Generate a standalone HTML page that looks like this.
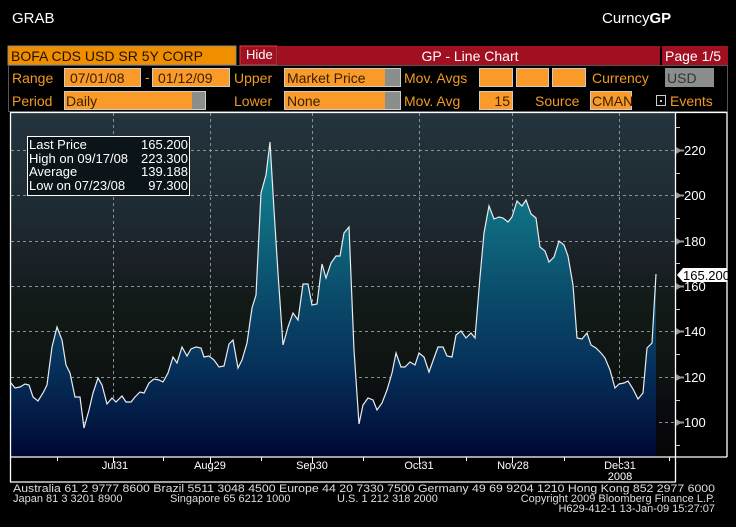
<!DOCTYPE html>
<html><head><meta charset="utf-8"><style>
body{margin:0;background:#000;width:736px;height:527px;overflow:hidden}
svg{display:block}
text{font-family:"Liberation Sans Narrow","Liberation Sans",sans-serif}
</style></head><body>
<svg width="736" height="527" viewBox="0 0 736 527" xmlns="http://www.w3.org/2000/svg">
<defs>
<linearGradient id="bg" gradientUnits="userSpaceOnUse" x1="0" y1="113" x2="0" y2="457">
<stop offset="0" stop-color="#24343c"/>
<stop offset="0.3" stop-color="#1e2a31"/>
<stop offset="0.45" stop-color="#191f24"/>
<stop offset="0.55" stop-color="#121a18"/>
<stop offset="0.75" stop-color="#0e1412"/>
<stop offset="0.85" stop-color="#0a0b12"/>
<stop offset="1" stop-color="#050508"/>
</linearGradient>
<linearGradient id="fill" gradientUnits="userSpaceOnUse" x1="0" y1="140" x2="0" y2="457">
<stop offset="0" stop-color="#12899a"/>
<stop offset="0.25" stop-color="#0f6c80"/>
<stop offset="0.5" stop-color="#0a4a6a"/>
<stop offset="0.72" stop-color="#06305a"/>
<stop offset="0.88" stop-color="#021a44"/>
<stop offset="1" stop-color="#000733"/>
</linearGradient>
</defs>

<text x="12" y="23" fill="#fff" font-size="15">GRAB</text>
<text x="602" y="23" fill="#fff" font-size="15">Curncy<tspan font-weight="bold" font-family="Liberation Sans" font-size="15">GP</tspan></text>

<!-- header row -->
<rect x="8" y="46" width="228" height="19" fill="#ef8f00" stroke="#888" stroke-width="1"/>
<text x="11" y="61" fill="#221100" font-size="14">BOFA CDS USD SR 5Y CORP</text>
<rect x="240" y="46" width="37" height="19" fill="#a01020" stroke="#e04040" stroke-width="1"/>
<text x="246" y="59" fill="#fff" font-size="13">Hide</text>
<rect x="278" y="46" width="382" height="19" fill="#a01020"/>
<text x="470" y="61" fill="#fff" font-size="14" text-anchor="middle">GP - Line Chart</text>
<rect x="662" y="46" width="66" height="19" fill="#a01020"/>
<text x="665" y="61" fill="#fff" font-size="14">Page 1/5</text>

<rect x="8.5" y="65.5" width="719" height="46" fill="none" stroke="#555" stroke-width="1"/>
<g font-size="14" fill="#f09a20">
<text x="12" y="83">Range</text>
<text x="145" y="82">-</text>
<text x="234" y="83">Upper</text>
<text x="404" y="83">Mov. Avgs</text>
<text x="592" y="83">Currency</text>
<text x="12" y="106">Period</text>
<text x="234" y="106">Lower</text>
<text x="404" y="106">Mov. Avg</text>
<text x="535" y="106">Source</text>
<text x="670" y="106">Events</text>
</g>
<g fill="#fa9a28" stroke="#ccc" stroke-width="1">
<rect x="64.5" y="68.5" width="76" height="18"/>
<rect x="152.5" y="68.5" width="77" height="18"/>
<rect x="284.5" y="68.5" width="116" height="18"/>
<rect x="479.5" y="68.5" width="33" height="18"/>
<rect x="516.5" y="68.5" width="32" height="18"/>
<rect x="552.5" y="68.5" width="33" height="18"/>
<rect x="64.5" y="91.5" width="141" height="18"/>
<rect x="284.5" y="91.5" width="116" height="18"/>
<rect x="479.5" y="91.5" width="33" height="18"/>
<rect x="590.5" y="91.5" width="41" height="18"/>
</g>
<rect x="385" y="69" width="15" height="17" fill="#8a8f8c"/>
<rect x="385" y="92" width="15" height="17" fill="#8a8f8c"/>
<rect x="192" y="92" width="13" height="17" fill="#8a8f8c"/>
<rect x="665" y="68" width="49" height="19" fill="#8a8f8c"/>
<rect x="656.5" y="95.5" width="9" height="10" fill="none" stroke="#ccc"/>
<rect x="660" y="100" width="2" height="2" fill="#ccc"/>
<g font-size="14" fill="#3a2000">
<text x="70" y="83">07/01/08</text>
<text x="158" y="83">01/12/09</text>
<text x="287" y="83">Market Price</text>
<text x="66" y="106">Daily</text>
<text x="287" y="106">None</text>
<text x="510" y="106" text-anchor="end">15</text>
<text x="592" y="106">CMAN</text>
<text x="667" y="83" fill="#333">USD</text>
</g>

<!-- chart -->
<rect x="11" y="113" width="664" height="344" fill="url(#bg)"/>
<g stroke="#8a9096" stroke-dasharray="3,3" stroke-width="1">
<line x1="11" x2="675" y1="150.5" y2="150.5"/>
<line x1="11" x2="675" y1="195.5" y2="195.5"/>
<line x1="11" x2="675" y1="241.5" y2="241.5"/>
<line x1="11" x2="675" y1="286.5" y2="286.5"/>
<line x1="11" x2="675" y1="331.5" y2="331.5"/>
<line x1="11" x2="675" y1="377.5" y2="377.5"/>
<line x1="11" x2="675" y1="422.5" y2="422.5"/>
<line x1="113.5" x2="113.5" y1="113" y2="457"/>
<line x1="210.5" x2="210.5" y1="113" y2="457"/>
<line x1="312.5" x2="312.5" y1="113" y2="457"/>
<line x1="419.5" x2="419.5" y1="113" y2="457"/>
<line x1="512.5" x2="512.5" y1="113" y2="457"/>
<line x1="619.5" x2="619.5" y1="113" y2="457"/>
</g>
<polygon fill="url(#fill)" points="11,457 11,383 15,388 20,387 25,384 29,385 33,397 38,401 43,393 47,385 52,347 57,327 62,340 66,365 70,373 75,397 80,397 84,428 89,410 93,393 98,378 102,385 107,404 112,398 116,402 122,396 126,402 131,402 135,397 140,392 144,393 149,383 154,379 159,380 163,382 168,373 173,357 177,363 182,347 187,356 191,349 196,347 201,348 204,357 209,356 214,360 219,367 224,366 229,344 233,340 238,368 242,360 247,343 252,308 256,295 261,193 266,175 270,142 274,210 278,273 283,345 288,327 293,313 298,320 303,284 308,284 312,305 317,304 322,264 326,278 331,263 336,256 340,256 344,233 349,227 354,350 359,424 363,405 368,398 373,400 377,410 382,403 387,390 392,373 396,353 401,367 405,367 410,362 415,365 419,353 424,357 429,372 434,358 438,347 443,347 447,356 452,357 456,335 461,331 466,338 471,333 475,338 480,277 484,233 489,206 494,219 499,217 503,218 508,222 512,217 517,201 522,206 526,200 531,214 536,218 540,247 545,251 549,262 554,257 559,241 564,245 568,256 573,285 577,338 582,339 587,333 591,345 596,348 601,353 605,358 610,370 615,388 619,384 624,383 628,381 633,389 638,399 643,393 647,348 652,343 656,274 656,457"/>
<polyline fill="none" stroke="#e8ecef" stroke-width="1.2" points="11,383 15,388 20,387 25,384 29,385 33,397 38,401 43,393 47,385 52,347 57,327 62,340 66,365 70,373 75,397 80,397 84,428 89,410 93,393 98,378 102,385 107,404 112,398 116,402 122,396 126,402 131,402 135,397 140,392 144,393 149,383 154,379 159,380 163,382 168,373 173,357 177,363 182,347 187,356 191,349 196,347 201,348 204,357 209,356 214,360 219,367 224,366 229,344 233,340 238,368 242,360 247,343 252,308 256,295 261,193 266,175 270,142 274,210 278,273 283,345 288,327 293,313 298,320 303,284 308,284 312,305 317,304 322,264 326,278 331,263 336,256 340,256 344,233 349,227 354,350 359,424 363,405 368,398 373,400 377,410 382,403 387,390 392,373 396,353 401,367 405,367 410,362 415,365 419,353 424,357 429,372 434,358 438,347 443,347 447,356 452,357 456,335 461,331 466,338 471,333 475,338 480,277 484,233 489,206 494,219 499,217 503,218 508,222 512,217 517,201 522,206 526,200 531,214 536,218 540,247 545,251 549,262 554,257 559,241 564,245 568,256 573,285 577,338 582,339 587,333 591,345 596,348 601,353 605,358 610,370 615,388 619,384 624,383 628,381 633,389 638,399 643,393 647,348 652,343 656,274"/>

<!-- frame -->
<g stroke="#fff" stroke-width="1.3" fill="none">
<line x1="10.5" y1="112" x2="10.5" y2="482"/>
<line x1="10" y1="112.5" x2="727" y2="112.5"/>
<line x1="727" y1="112" x2="727" y2="457"/>
<line x1="675.5" y1="112" x2="675.5" y2="482"/>
<line x1="10" y1="457" x2="727" y2="457"/>
<line x1="10" y1="482" x2="676" y2="482"/>
</g>

<!-- legend -->
<rect x="27.5" y="136.5" width="162" height="59" fill="#0b1418" stroke="#fff" stroke-width="1"/>
<g fill="#fff" font-size="13" font-family="Liberation Sans">
<text x="29" y="149" font-family="Liberation Sans">Last Price</text><text x="188" y="149" text-anchor="end" font-family="Liberation Sans">165.200</text>
<text x="29" y="163" font-family="Liberation Sans">High on  09/17/08</text><text x="188" y="163" text-anchor="end" font-family="Liberation Sans">223.300</text>
<text x="29" y="176" font-family="Liberation Sans">Average</text><text x="188" y="176" text-anchor="end" font-family="Liberation Sans">139.188</text>
<text x="29" y="190" font-family="Liberation Sans">Low on  07/23/08</text><text x="188" y="190" text-anchor="end" font-family="Liberation Sans">97.300</text>
</g>

<!-- right axis -->
<g fill="#999">
<polygon points="676,147 682,150.5 676,154"/><rect x="680" y="149.5" width="4" height="2"/>
<polygon points="676,192 682,195.5 676,199"/><rect x="680" y="194.5" width="4" height="2"/>
<polygon points="676,238 682,241.5 676,245"/><rect x="680" y="240.5" width="4" height="2"/>
<polygon points="676,283 682,286.5 676,290"/><rect x="680" y="285.5" width="4" height="2"/>
<polygon points="676,328 682,331.5 676,335"/><rect x="680" y="330.5" width="4" height="2"/>
<polygon points="676,374 682,377.5 676,381"/><rect x="680" y="376.5" width="4" height="2"/>
<polygon points="676,419 682,422.5 676,426"/><rect x="680" y="421.5" width="4" height="2"/>
</g>
<g stroke="#ccc" stroke-width="1">
<line x1="676" x2="680" y1="127.5" y2="127.5"/><line x1="676" x2="680" y1="173.5" y2="173.5"/>
<line x1="676" x2="680" y1="218.5" y2="218.5"/><line x1="676" x2="680" y1="263.5" y2="263.5"/>
<line x1="676" x2="680" y1="309.5" y2="309.5"/><line x1="676" x2="680" y1="354.5" y2="354.5"/>
<line x1="676" x2="680" y1="400.5" y2="400.5"/><line x1="676" x2="680" y1="445.5" y2="445.5"/>
</g>
<g fill="#fff" font-size="13" font-family="Liberation Sans">
<text x="684" y="155" font-family="Liberation Sans">220</text>
<text x="684" y="200" font-family="Liberation Sans">200</text>
<text x="684" y="246" font-family="Liberation Sans">180</text>
<text x="684" y="291" font-family="Liberation Sans">160</text>
<text x="684" y="336" font-family="Liberation Sans">140</text>
<text x="684" y="382" font-family="Liberation Sans">120</text>
<text x="684" y="427" font-family="Liberation Sans">100</text>
</g>
<polygon points="677,275 683,268 727,268 727,282 683,282" fill="#fff"/>
<text x="683" y="280" fill="#000" font-size="13" font-family="Liberation Sans">165.200</text>

<!-- bottom axis -->
<g stroke="#fff" stroke-width="1">
<line x1="57.5" x2="57.5" y1="457" y2="461"/><line x1="163.5" x2="163.5" y1="457" y2="461"/>
<line x1="261.5" x2="261.5" y1="457" y2="461"/><line x1="363.5" x2="363.5" y1="457" y2="461"/>
<line x1="466.5" x2="466.5" y1="457" y2="461"/><line x1="564.5" x2="564.5" y1="457" y2="461"/>
<line x1="669.5" x2="669.5" y1="457" y2="461"/>
<line x1="113.5" x2="113.5" y1="457" y2="463"/><line x1="210.5" x2="210.5" y1="457" y2="463"/>
<line x1="312.5" x2="312.5" y1="457" y2="463"/><line x1="419.5" x2="419.5" y1="457" y2="463"/>
<line x1="512.5" x2="512.5" y1="457" y2="463"/><line x1="619.5" x2="619.5" y1="457" y2="463"/>
</g>
<g fill="#fff" font-size="11" font-family="Liberation Mono" text-anchor="middle">
<text x="115" y="469" font-family="Liberation Mono">Jul31</text>
<text x="210" y="469" font-family="Liberation Mono">Aug29</text>
<text x="312" y="469" font-family="Liberation Mono">Sep30</text>
<text x="419" y="469" font-family="Liberation Mono">Oct31</text>
<text x="513" y="469" font-family="Liberation Mono">Nov28</text>
<text x="620" y="469" font-family="Liberation Mono">Dec31</text>
<text x="620" y="480" font-family="Liberation Mono">2008</text>
</g>

<!-- footer -->
<g fill="#ddd" font-size="11" font-family="Liberation Mono">
<text x="13" y="492" textLength="702" lengthAdjust="spacingAndGlyphs" font-family="Liberation Mono">Australia 61 2 9777 8600 Brazil 5511 3048 4500 Europe 44 20 7330 7500 Germany 49 69 9204 1210 Hong Kong 852 2977 6000</text>
<text x="13" y="502" font-family="Liberation Mono">Japan 81 3 3201 8900</text>
<text x="170" y="502" font-family="Liberation Mono">Singapore 65 6212 1000</text>
<text x="337" y="502" font-family="Liberation Mono">U.S. 1 212 318 2000</text>
<text x="715" y="502" text-anchor="end" font-family="Liberation Mono">Copyright 2009 Bloomberg Finance L.P.</text>
<text x="715" y="512" text-anchor="end" font-family="Liberation Mono">H629-412-1 13-Jan-09 15:27:07</text>
</g>
</svg>
</body></html>
